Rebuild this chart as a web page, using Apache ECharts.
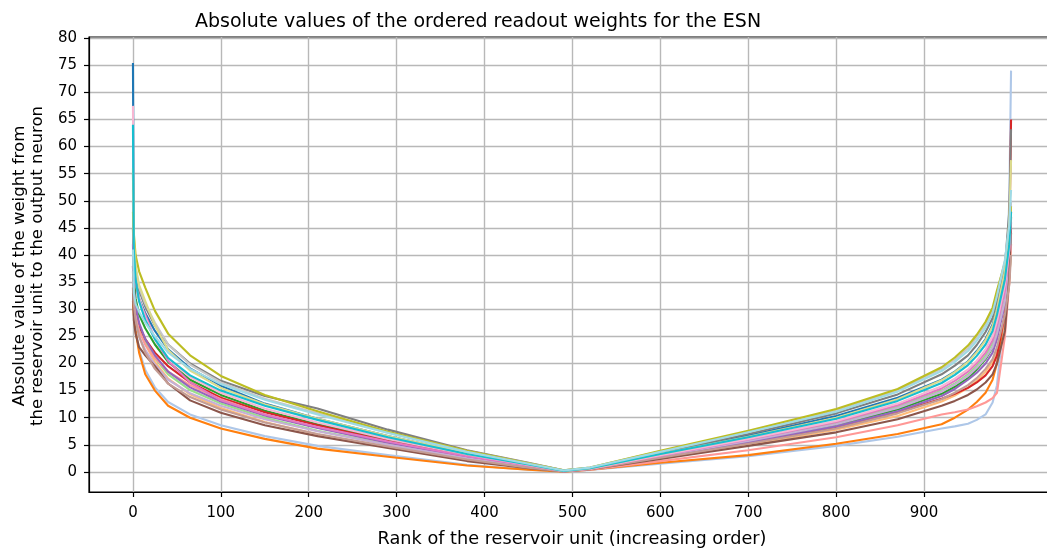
<!DOCTYPE html>
<html>
<head>
<meta charset="utf-8">
<title>ESN readout weights</title>
<script src="https://cdn.jsdelivr.net/npm/echarts@6/dist/echarts.min.js"></script>
<style>
  html, body { margin: 0; padding: 0; background: #fff; }
  #chart { width: 1047px; height: 548px; }
</style>
</head>
<body>
<div id="chart"></div>
<script>
// Rank positions at which each curve is sampled (ranks 0..999)
const ranks = [0, 1, 3, 7, 14, 25, 40, 65, 100, 150, 210, 290, 380, 450, 490,
               520, 600, 700, 800, 870, 920, 935, 950, 960, 970, 978, 983, 992, 997, 999];

// Absolute readout weights of each run, read at the ranks above
const run01 = [75.4, 40.5, 35.5, 32.0, 29.3, 26.0, 22.6, 19.1, 15.9, 12.6, 9.8, 6.6, 3.4, 1.4, 0.2,
               0.7, 3.4, 6.7, 10.3, 13.7, 17.0, 18.5, 20.4, 22.3, 24.5, 27.2, 30.2, 37.0, 41.5, 45.0];
const run02 = [38.0, 30.0, 26.5, 22.5, 18.8, 15.6, 12.9, 10.6, 8.6, 6.6, 4.8, 3.1, 1.3, 0.4, 0.05,
               0.35, 1.5, 2.9, 4.8, 6.5, 8.0, 8.4, 8.9, 9.6, 10.6, 12.8, 16.0, 30.0, 50.0, 74.0];
const run03 = [31.5, 29.0, 26.0, 22.0, 18.0, 15.0, 12.2, 10.0, 8.0, 6.1, 4.3, 2.8, 1.2, 0.4, 0.05,
               0.4, 1.7, 3.1, 5.2, 7.0, 8.8, 10.0, 11.5, 12.9, 14.6, 17.0, 20.0, 29.0, 38.0, 48.0];
const run04 = [40.0, 33.0, 29.5, 26.5, 23.5, 20.3, 17.2, 14.3, 11.8, 9.2, 6.9, 4.6, 2.2, 0.8, 0.1,
               0.5, 2.5, 5.0, 7.8, 10.3, 13.0, 14.1, 15.5, 16.8, 18.5, 20.3, 22.5, 28.0, 35.0, 42.0];
const run05 = [45.0, 36.0, 32.0, 29.0, 26.5, 23.5, 20.3, 17.0, 14.2, 11.3, 8.8, 5.9, 3.1, 1.3, 0.2,
               0.6, 2.9, 5.6, 8.6, 11.5, 14.4, 15.7, 17.3, 18.9, 20.8, 22.9, 25.5, 31.5, 38.0, 44.0];
const run06 = [33.0, 31.0, 29.0, 26.5, 24.0, 21.0, 18.0, 15.1, 12.6, 10.0, 7.6, 5.1, 2.5, 1.0, 0.1,
               0.6, 3.0, 5.9, 9.0, 12.0, 15.0, 16.3, 18.0, 19.6, 21.5, 23.8, 26.5, 32.0, 36.5, 40.0];
const run07 = [38.0, 33.0, 30.0, 27.0, 24.5, 22.0, 19.5, 16.5, 13.7, 11.0, 8.6, 5.7, 2.9, 1.1, 0.15,
               0.5, 2.7, 5.3, 8.2, 11.0, 13.5, 14.4, 15.5, 16.5, 17.8, 19.5, 21.5, 29.0, 42.0, 65.0];
const run08 = [36.0, 32.0, 29.0, 26.0, 23.5, 21.0, 18.5, 16.0, 13.4, 10.6, 8.2, 5.4, 2.7, 1.0, 0.1,
               0.4, 2.0, 4.0, 6.4, 8.6, 10.6, 11.0, 11.5, 12.1, 12.8, 13.6, 14.6, 25.0, 35.0, 42.0];
const run09 = [42.0, 34.0, 30.5, 27.5, 24.5, 21.5, 18.5, 15.6, 13.0, 10.4, 8.1, 5.4, 2.8, 1.1, 0.15,
               0.6, 2.8, 5.5, 8.4, 11.2, 14.0, 15.3, 17.0, 18.3, 20.0, 22.0, 24.5, 31.0, 38.0, 46.0];
const run10 = [35.0, 31.0, 28.0, 25.0, 22.5, 19.8, 17.0, 14.5, 12.2, 9.7, 7.5, 5.0, 2.5, 0.9, 0.1,
               0.6, 2.9, 5.7, 8.8, 11.8, 14.8, 16.1, 17.7, 19.2, 21.0, 23.0, 25.5, 31.5, 37.5, 44.0];
const run11 = [34.0, 28.0, 25.5, 23.0, 21.5, 19.5, 16.3, 13.2, 10.9, 8.6, 6.6, 4.4, 2.0, 0.7, 0.1,
               0.5, 2.4, 4.8, 7.3, 9.7, 12.2, 13.1, 14.2, 15.2, 16.5, 18.0, 20.0, 26.0, 36.0, 47.0];
const run12 = [37.0, 31.0, 28.0, 25.0, 22.0, 19.0, 16.3, 13.8, 11.5, 9.1, 7.0, 4.7, 2.3, 0.8, 0.1,
               0.5, 2.6, 5.2, 8.0, 10.8, 13.4, 14.6, 16.0, 17.3, 19.0, 20.8, 23.0, 29.0, 34.5, 40.0];
const run13 = [50.0, 40.0, 35.0, 31.5, 29.0, 24.5, 20.5, 16.5, 13.2, 10.6, 8.3, 5.6, 2.9, 1.2, 0.15,
               0.6, 3.0, 6.0, 9.2, 12.3, 15.4, 16.8, 18.5, 20.1, 22.0, 24.3, 27.0, 33.5, 41.0, 50.0];
const run14 = [67.5, 42.0, 36.0, 32.0, 28.5, 24.5, 21.0, 17.5, 14.6, 11.7, 9.1, 6.1, 3.2, 1.3, 0.2,
               0.6, 3.1, 6.1, 9.4, 12.6, 15.8, 17.2, 18.9, 20.5, 22.6, 25.0, 27.8, 34.5, 41.0, 48.0];
const run15 = [55.0, 42.0, 37.0, 33.5, 30.5, 27.0, 23.5, 20.0, 16.8, 14.0, 11.7, 7.8, 4.0, 1.7, 0.3,
               0.7, 3.6, 7.0, 10.8, 14.3, 18.0, 19.6, 21.5, 23.4, 25.8, 28.4, 31.5, 38.0, 48.0, 63.2];
const run16 = [52.0, 42.0, 37.5, 34.0, 31.0, 27.5, 23.5, 19.8, 16.5, 13.5, 10.8, 7.3, 3.8, 1.6, 0.3,
               0.8, 3.8, 7.4, 11.3, 15.0, 19.0, 20.7, 22.8, 24.8, 27.2, 29.8, 33.0, 39.0, 45.0, 50.0];
const run17 = [48.0, 44.0, 40.0, 37.0, 34.0, 29.7, 25.5, 21.5, 17.7, 14.2, 11.2, 7.4, 3.9, 1.6, 0.3,
               0.8, 3.9, 7.6, 11.6, 15.3, 19.3, 21.1, 23.3, 25.3, 27.7, 30.3, 33.5, 38.5, 44.0, 49.0];
const run18 = [56.0, 43.0, 38.0, 34.5, 31.5, 27.0, 22.5, 18.7, 15.5, 12.5, 9.8, 6.6, 3.5, 1.4, 0.2,
               0.7, 3.3, 6.5, 10.0, 13.4, 16.9, 18.4, 20.3, 22.1, 24.3, 26.9, 30.0, 37.0, 46.0, 57.5];
const run19 = [64.0, 41.0, 35.5, 31.5, 28.0, 24.5, 21.0, 17.8, 15.0, 12.2, 9.6, 6.4, 3.3, 1.4, 0.2,
               0.7, 3.3, 6.4, 9.8, 13.1, 16.4, 17.9, 19.7, 21.4, 23.5, 26.0, 29.0, 35.5, 42.0, 48.0];
const run20 = [41.0, 33.0, 31.0, 29.5, 27.5, 25.0, 22.0, 19.0, 16.2, 13.3, 10.6, 7.2, 3.7, 1.5, 0.25,
               0.8, 3.7, 7.3, 11.1, 14.8, 18.6, 20.3, 22.3, 24.2, 26.6, 29.3, 32.5, 39.0, 45.5, 52.0];

const runs = [run01, run02, run03, run04, run05, run06, run07, run08, run09, run10,
              run11, run12, run13, run14, run15, run16, run17, run18, run19, run20];

// tab20 palette
const palette = ['#1f77b4', '#aec7e8', '#ff7f0e', '#ffbb78', '#2ca02c', '#98df8a',
                 '#d62728', '#ff9896', '#9467bd', '#c5b0d5', '#8c564b', '#c49c94',
                 '#e377c2', '#f7b6d2', '#7f7f7f', '#c7c7c7', '#bcbd22', '#dbdb8d',
                 '#17becf', '#9edae5'];

const xTicks = [0, 100, 200, 300, 400, 500, 600, 700, 800, 900];
const yTicks = [0, 5, 10, 15, 20, 25, 30, 35, 40, 45, 50, 55, 60, 65, 70, 75, 80];

const FONT = '"DejaVu Sans", "Noto Sans", sans-serif';

const chart = echarts.init(document.getElementById('chart'), null, { renderer: 'canvas' });

const series = runs.map((vals, i) => ({
  type: 'line',
  name: 'run ' + (i + 1),
  data: vals.map((v, k) => [ranks[k], v]),
  showSymbol: false,
  symbol: 'none',
  lineStyle: { width: 2.1, color: palette[i], join: 'round' },
  itemStyle: { color: palette[i] },
  emphasis: { disabled: true },
  z: 3
}));

chart.setOption({
  animation: false,
  backgroundColor: '#fff',
  title: {
    text: 'Absolute values of the ordered readout weights for the ESN',
    left: 190,
    top: 8,
    textStyle: { fontFamily: FONT, fontSize: 19, fontWeight: 'normal', color: '#000' }
  },
  grid: {
    left: 89, top: 37, width: 966, bottom: 56,
    outerBoundsMode: 'none',
    show: true, borderColor: '#000', borderWidth: 1.2, backgroundColor: 'transparent',
    containLabel: false
  },
  xAxis: {
    type: 'value',
    min: -50, max: 1049,
    axisLine: { show: true, onZero: false, lineStyle: { color: '#000', width: 1.2 } },
    axisTick: { show: true, length: 5, customValues: xTicks, lineStyle: { color: '#000', width: 1.2 } },
    axisLabel: { customValues: xTicks, color: '#000', fontFamily: FONT, fontSize: 15, margin: 14 },
    splitLine: { show: true, lineStyle: { color: '#b8b8b8', width: 1.4 } },
    name: 'Rank of the reservoir unit (increasing order)',
    nameLocation: 'middle',
    nameGap: 38,
    nameTextStyle: { color: '#000', fontFamily: FONT, fontSize: 17.7 }
  },
  yAxis: {
    type: 'value',
    min: -3.7, max: 80.2,
    axisLine: { show: true, onZero: false, lineStyle: { color: '#000', width: 1.2 } },
    axisTick: { show: true, length: 5, customValues: yTicks, lineStyle: { color: '#000', width: 1.2 } },
    axisLabel: { customValues: yTicks, color: '#000', fontFamily: FONT, fontSize: 15, margin: 12 },
    splitLine: { show: true, lineStyle: { color: '#b8b8b8', width: 1.4 } }
  },
  graphic: [
    {
      type: 'text', x: 20, y: 266, rotation: Math.PI / 2,
      style: { text: 'Absolute value of the weight from', textAlign: 'center', textVerticalAlign: 'middle',
               font: '16.5px ' + FONT, fill: '#000' }
    },
    {
      type: 'text', x: 38, y: 266, rotation: Math.PI / 2,
      style: { text: 'the reservoir unit to the output neuron', textAlign: 'center', textVerticalAlign: 'middle',
               font: '16.5px ' + FONT, fill: '#000' }
    }
  ],
  series: series
});
</script>
</body>
</html>
